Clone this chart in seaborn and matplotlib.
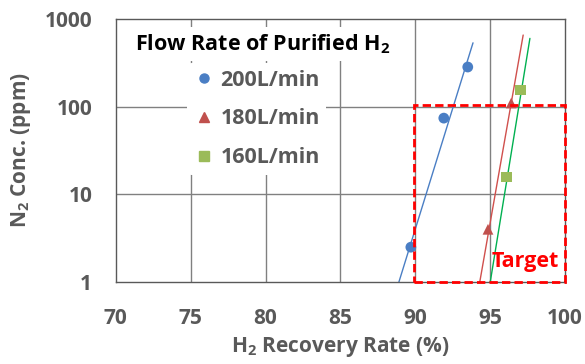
import matplotlib
matplotlib.use("Agg")
import matplotlib.pyplot as plt
import seaborn as sns
import pandas as pd
import numpy as np
from matplotlib.patches import Rectangle
from matplotlib.lines import Line2D

# data
series = ["200L/min", "180L/min", "160L/min"]
rec_200 = [89.7, 91.9, 93.5]
n2_200 = [2.5, 74, 283]
rec_180 = [94.85, 96.4]
n2_180 = [4.0, 110]
rec_160 = [96.1, 97.0]
n2_160 = [15.8, 155]
# fitted trend lines (endpoints)
fit_200_x = [88.9, 93.85]
fit_200_y = [1.0, 534]
fit_180_x = [94.3, 97.2]
fit_180_y = [1.0, 655]
fit_160_x = [95.0, 97.65]
fit_160_y = [1.0, 600]
target_x = [89.9, 100]
target_y = [1.0, 105]
xticks = [70, 75, 80, 85, 90, 95, 100]
yticks = [1, 10, 100, 1000]

FONT = "Open Sans"
sns.set_theme(style="white")
plt.rcParams['font.family'] = [FONT, 'DejaVu Sans']
plt.rcParams['mathtext.fontset'] = 'custom'
plt.rcParams['mathtext.rm'] = FONT + ':bold'
plt.rcParams['mathtext.bf'] = FONT + ':bold'
plt.rcParams['mathtext.it'] = FONT + ':bold'
plt.rcParams['mathtext.default'] = 'bf'

pts = pd.DataFrame({
    "rec": rec_200 + rec_180 + rec_160,
    "n2": n2_200 + n2_180 + n2_160,
    "flow": [series[0]] * 3 + [series[1]] * 2 + [series[2]] * 2,
})
fits = pd.DataFrame({
    "rec": fit_200_x + fit_180_x + fit_160_x,
    "n2": fit_200_y + fit_180_y + fit_160_y,
    "flow": [series[0]] * 2 + [series[1]] * 2 + [series[2]] * 2,
})

pt_col = {series[0]: "#4A7EC4", series[1]: "#C0504D", series[2]: "#9BBB59"}
ln_col = {series[0]: "#4A7EC4", series[1]: "#D0504D", series[2]: "#00B050"}
mk = {series[0]: "o", series[1]: "^", series[2]: "s"}

fig = plt.figure(figsize=(5.85, 3.64), dpi=100)
ax = fig.add_axes([0.198, 0.225, 0.768, 0.723])

grid_c = "#808080"
for xv in xticks[1:-1]:
    ax.axvline(xv, color=grid_c, lw=1.0, zorder=0)
for yv in yticks[1:-1]:
    ax.axhline(yv, color=grid_c, lw=1.0, zorder=0)

sns.lineplot(data=fits, x="rec", y="n2", hue="flow", palette=ln_col, ax=ax,
             legend=False, lw=1.0, zorder=2, estimator=None, sort=False)
sns.scatterplot(data=pts, x="rec", y="n2", hue="flow", style="flow", markers=mk,
                palette=pt_col, ax=ax, s=60, edgecolor="none", legend=False, zorder=3)

ax.set_yscale("log")
ax.set_xlim(70, 100)
ax.set_ylim(1, 1000)
ax.set_xticks(xticks)
ax.set_xticklabels([str(v) for v in xticks])
ax.set_yticks(yticks)
ax.set_yticklabels([str(v) for v in yticks])
ax.minorticks_off()
lab_c = "#595959"
FS = 15
ax.tick_params(axis="both", length=0, labelsize=FS, labelcolor=lab_c)
ax.tick_params(axis="x", pad=19)
ax.tick_params(axis="y", pad=17)
for t in ax.get_xticklabels() + ax.get_yticklabels():
    t.set_fontweight("bold")
ax.set_xlabel("H$_2$ Recovery Rate (%)", fontsize=FS, fontweight="bold", color=lab_c, labelpad=4)
ax.set_ylabel("N$_2$ Conc. (ppm)", fontsize=FS, fontweight="bold", color=lab_c, labelpad=8)
for s in ax.spines.values():
    s.set_color("#595959")
    s.set_linewidth(1.0)

# target box
ax.add_patch(Rectangle((target_x[0], target_y[0]), target_x[1] - target_x[0],
                       target_y[1] - target_y[0], fill=False, ec="#FF0000",
                       lw=2, ls=(0, (3, 1.5)), zorder=4, clip_on=False))
ax.text(99.6, 1.7, "Target", color="#FF0000", fontsize=15.5, fontweight="bold",
        ha="right", va="center", zorder=5)

# legend
ax.text(0.327, 0.905, "Flow Rate of Purified H$_2$", transform=ax.transAxes,
        fontsize=15.5, fontweight="bold", color="black", ha="center", va="center",
        zorder=6, bbox=dict(fc="white", ec="none", pad=4))
handles = [Line2D([], [], ls="none", marker=mk[s], color=pt_col[s], markersize=6.5) for s in series]
leg = ax.legend(handles, series, loc="upper left", bbox_to_anchor=(0.135, 0.872),
                frameon=True, facecolor="white", edgecolor="none", framealpha=1,
                handletextpad=0.25, handlelength=1.0, labelspacing=0.82,
                borderpad=0.3, prop={"weight": "bold", "size": 15.5})
for t in leg.get_texts():
    t.set_color(lab_c)
leg.set_zorder(6)

fig.savefig("out.png", dpi=100)
